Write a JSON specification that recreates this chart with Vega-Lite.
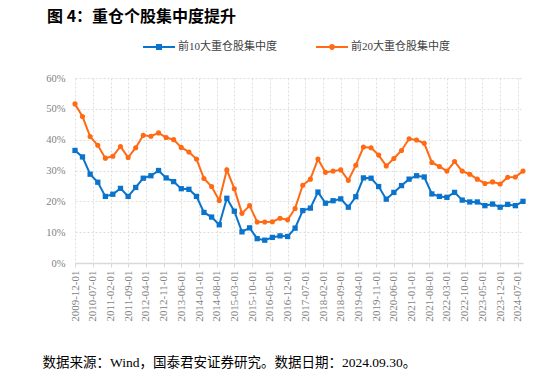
{
  "$schema": "https://vega.github.io/schema/vega-lite/v6.json",
  "width": 448,
  "height": 185,
  "autosize": {"type": "none"},
  "padding": {"left": 75, "top": 78, "right": 37, "bottom": 122},
  "background": "white",
  "title": {
    "text": "图 4：重仓个股集中度提升",
    "anchor": "start",
    "frame": "group",
    "dx": -28,
    "offset": 6,
    "font": "Noto Sans CJK SC",
    "fontSize": 16,
    "fontWeight": "bold",
    "color": "#000000"
  },
  "config": {"view": {"stroke": null}},
  "data": {"values": [
    {"date": "2009-12-01", "前10大重仓股集中度": 36.5, "前20大重仓股集中度": 51.6},
    {"date": "2010-03-01", "前10大重仓股集中度": 34.4, "前20大重仓股集中度": 47.5},
    {"date": "2010-06-01", "前10大重仓股集中度": 28.8, "前20大重仓股集中度": 41.0},
    {"date": "2010-09-01", "前10大重仓股集中度": 26.2, "前20大重仓股集中度": 38.2},
    {"date": "2010-12-01", "前10大重仓股集中度": 21.6, "前20大重仓股集中度": 34.0},
    {"date": "2011-03-01", "前10大重仓股集中度": 22.3, "前20大重仓股集中度": 34.6},
    {"date": "2011-06-01", "前10大重仓股集中度": 24.2, "前20大重仓股集中度": 37.8},
    {"date": "2011-09-01", "前10大重仓股集中度": 21.6, "前20大重仓股集中度": 34.2},
    {"date": "2011-12-01", "前10大重仓股集中度": 24.5, "前20大重仓股集中度": 37.4},
    {"date": "2012-03-01", "前10大重仓股集中度": 27.5, "前20大重仓股集中度": 41.4},
    {"date": "2012-06-01", "前10大重仓股集中度": 28.3, "前20大重仓股集中度": 41.1},
    {"date": "2012-09-01", "前10大重仓股集中度": 30.0, "前20大重仓股集中度": 42.2},
    {"date": "2012-12-01", "前10大重仓股集中度": 27.6, "前20大重仓股集中度": 40.7},
    {"date": "2013-03-01", "前10大重仓股集中度": 26.4, "前20大重仓股集中度": 40.0},
    {"date": "2013-06-01", "前10大重仓股集中度": 24.1, "前20大重仓股集中度": 37.5},
    {"date": "2013-09-01", "前10大重仓股集中度": 23.9, "前20大重仓股集中度": 36.0},
    {"date": "2013-12-01", "前10大重仓股集中度": 21.6, "前20大重仓股集中度": 33.7},
    {"date": "2014-03-01", "前10大重仓股集中度": 16.4, "前20大重仓股集中度": 27.4},
    {"date": "2014-06-01", "前10大重仓股集中度": 14.9, "前20大重仓股集中度": 24.8},
    {"date": "2014-09-01", "前10大重仓股集中度": 12.4, "前20大重仓股集中度": 20.3},
    {"date": "2014-12-01", "前10大重仓股集中度": 21.0, "前20大重仓股集中度": 30.2},
    {"date": "2015-03-01", "前10大重仓股集中度": 16.8, "前20大重仓股集中度": 24.1},
    {"date": "2015-06-01", "前10大重仓股集中度": 10.1, "前20大重仓股集中度": 16.1},
    {"date": "2015-09-01", "前10大重仓股集中度": 11.4, "前20大重仓股集中度": 18.6},
    {"date": "2015-12-01", "前10大重仓股集中度": 7.9, "前20大重仓股集中度": 13.3},
    {"date": "2016-03-01", "前10大重仓股集中度": 7.4, "前20大重仓股集中度": 13.3},
    {"date": "2016-06-01", "前10大重仓股集中度": 8.3, "前20大重仓股集中度": 13.4},
    {"date": "2016-09-01", "前10大重仓股集中度": 8.8, "前20大重仓股集中度": 14.5},
    {"date": "2016-12-01", "前10大重仓股集中度": 8.6, "前20大重仓股集中度": 14.0},
    {"date": "2017-03-01", "前10大重仓股集中度": 11.3, "前20大重仓股集中度": 17.7},
    {"date": "2017-06-01", "前10大重仓股集中度": 17.0, "前20大重仓股集中度": 25.2},
    {"date": "2017-09-01", "前10大重仓股集中度": 17.8, "前20大重仓股集中度": 27.2},
    {"date": "2017-12-01", "前10大重仓股集中度": 23.0, "前20大重仓股集中度": 33.7},
    {"date": "2018-03-01", "前10大重仓股集中度": 19.4, "前20大重仓股集中度": 29.4},
    {"date": "2018-06-01", "前10大重仓股集中度": 20.2, "前20大重仓股集中度": 29.8},
    {"date": "2018-09-01", "前10大重仓股集中度": 20.8, "前20大重仓股集中度": 30.2},
    {"date": "2018-12-01", "前10大重仓股集中度": 18.1, "前20大重仓股集中度": 26.8},
    {"date": "2019-03-01", "前10大重仓股集中度": 21.5, "前20大重仓股集中度": 31.7},
    {"date": "2019-06-01", "前10大重仓股集中度": 27.6, "前20大重仓股集中度": 37.6},
    {"date": "2019-09-01", "前10大重仓股集中度": 27.5, "前20大重仓股集中度": 37.4},
    {"date": "2019-12-01", "前10大重仓股集中度": 24.8, "前20大重仓股集中度": 35.0},
    {"date": "2020-03-01", "前10大重仓股集中度": 20.7, "前20大重仓股集中度": 31.5},
    {"date": "2020-06-01", "前10大重仓股集中度": 22.9, "前20大重仓股集中度": 33.9},
    {"date": "2020-09-01", "前10大重仓股集中度": 25.1, "前20大重仓股集中度": 36.5},
    {"date": "2020-12-01", "前10大重仓股集中度": 27.2, "前20大重仓股集中度": 40.3},
    {"date": "2021-03-01", "前10大重仓股集中度": 28.3, "前20大重仓股集中度": 39.9},
    {"date": "2021-06-01", "前10大重仓股集中度": 27.9, "前20大重仓股集中度": 38.8},
    {"date": "2021-09-01", "前10大重仓股集中度": 22.4, "前20大重仓股集中度": 32.6},
    {"date": "2021-12-01", "前10大重仓股集中度": 21.6, "前20大重仓股集中度": 31.3},
    {"date": "2022-03-01", "前10大重仓股集中度": 21.3, "前20大重仓股集中度": 29.8},
    {"date": "2022-06-01", "前10大重仓股集中度": 22.9, "前20大重仓股集中度": 32.9},
    {"date": "2022-09-01", "前10大重仓股集中度": 20.4, "前20大重仓股集中度": 29.8},
    {"date": "2022-12-01", "前10大重仓股集中度": 19.8, "前20大重仓股集中度": 28.8},
    {"date": "2023-03-01", "前10大重仓股集中度": 19.8, "前20大重仓股集中度": 27.2},
    {"date": "2023-06-01", "前10大重仓股集中度": 18.6, "前20大重仓股集中度": 25.8},
    {"date": "2023-09-01", "前10大重仓股集中度": 19.1, "前20大重仓股集中度": 26.3},
    {"date": "2023-12-01", "前10大重仓股集中度": 18.1, "前20大重仓股集中度": 25.6},
    {"date": "2024-03-01", "前10大重仓股集中度": 19.0, "前20大重仓股集中度": 27.8},
    {"date": "2024-06-01", "前10大重仓股集中度": 18.6, "前20大重仓股集中度": 27.9},
    {"date": "2024-09-01", "前10大重仓股集中度": 20.0, "前20大重仓股集中度": 29.8}
  ]},
  "transform": [{"fold": ["前10大重仓股集中度", "前20大重仓股集中度"], "as": ["series", "value"]}],
  "encoding": {
    "y": {
      "field": "value",
      "type": "quantitative",
      "scale": {"domain": [0, 60], "nice": false},
      "axis": {
        "values": [0, 10, 20, 30, 40, 50, 60],
        "labelExpr": "datum.value + '%'",
        "labelFont": "Liberation Serif",
        "labelFontSize": 10.5,
        "labelColor": "#7f7f7f",
        "labelPadding": 10,
        "domain": false,
        "ticks": false,
        "grid": true,
        "gridColor": "#dcdcdc",
        "gridDash": [2, 2],
        "title": null
      }
    }
  },
  "layer": [
    {
      "mark": {"type": "point", "filled": true, "opacity": 0, "size": 1024},
      "encoding": {
        "x": {
          "field": "date",
          "type": "temporal",
          "scale": {"type": "utc", "nice": false, "domain": [{"year": 2009, "month": 12, "date": 1, "utc": true}, {"year": 2024, "month": 9, "date": 1, "utc": true}]},
          "axis": null
        },
        "color": {
          "field": "series",
          "type": "nominal",
          "scale": {"domain": ["前10大重仓股集中度", "前20大重仓股集中度"], "range": ["#0A74CC", "#FF6A13"]},
          "legend": {
            "title": null,
            "orient": "none",
            "legendX": 68,
            "legendY": -47,
            "direction": "horizontal",
            "symbolSize": 1024,
            "symbolStrokeWidth": 0,
            "symbolOpacity": 1,
            "labelFont": "Liberation Serif, Noto Sans CJK SC",
            "labelFontSize": 11,
            "labelColor": "#404040",
            "labelOffset": 3,
            "columnPadding": 39,
            "padding": 0,
            "offset": 0
          }
        },
        "shape": {
          "field": "series",
          "type": "nominal",
          "scale": {
            "domain": ["前10大重仓股集中度", "前20大重仓股集中度"],
            "range": [
              "M-1,-0.0625H1V0.0625H-1Z M-0.19,-0.19H0.19V0.19H-0.19Z",
              "M-1,-0.0625H1V0.0625H-1Z M0.18,0A0.18,0.18,0,1,1,-0.18,0A0.18,0.18,0,1,1,0.18,0Z"
            ]
          },
          "legend": {
            "title": null,
            "orient": "none",
            "legendX": 68,
            "legendY": -47,
            "direction": "horizontal",
            "symbolSize": 1024,
            "symbolStrokeWidth": 0,
            "symbolOpacity": 1,
            "labelFont": "Liberation Serif, Noto Sans CJK SC",
            "labelFontSize": 11,
            "labelColor": "#404040",
            "labelOffset": 3,
            "columnPadding": 39,
            "padding": 0,
            "offset": 0
          }
        }
      }
    },
    {
      "mark": {"type": "line", "strokeWidth": 2},
      "encoding": {
        "color": {"field": "series", "type": "nominal", "legend": null},
        "x": {
          "field": "date",
          "type": "temporal",
          "scale": {"type": "utc", "nice": false, "domain": [{"year": 2009, "month": 12, "date": 1, "utc": true}, {"year": 2024, "month": 9, "date": 1, "utc": true}]},
          "axis": {
            "orient": "bottom",
            "values": [
              {"year": 2009, "month": 12, "date": 1, "utc": true},
              {"year": 2010, "month": 7, "date": 1, "utc": true},
              {"year": 2011, "month": 2, "date": 1, "utc": true},
              {"year": 2011, "month": 9, "date": 1, "utc": true},
              {"year": 2012, "month": 4, "date": 1, "utc": true},
              {"year": 2012, "month": 11, "date": 1, "utc": true},
              {"year": 2013, "month": 6, "date": 1, "utc": true},
              {"year": 2014, "month": 1, "date": 1, "utc": true},
              {"year": 2014, "month": 8, "date": 1, "utc": true},
              {"year": 2015, "month": 3, "date": 1, "utc": true},
              {"year": 2015, "month": 10, "date": 1, "utc": true},
              {"year": 2016, "month": 5, "date": 1, "utc": true},
              {"year": 2016, "month": 12, "date": 1, "utc": true},
              {"year": 2017, "month": 7, "date": 1, "utc": true},
              {"year": 2018, "month": 2, "date": 1, "utc": true},
              {"year": 2018, "month": 9, "date": 1, "utc": true},
              {"year": 2019, "month": 4, "date": 1, "utc": true},
              {"year": 2019, "month": 11, "date": 1, "utc": true},
              {"year": 2020, "month": 6, "date": 1, "utc": true},
              {"year": 2021, "month": 1, "date": 1, "utc": true},
              {"year": 2021, "month": 8, "date": 1, "utc": true},
              {"year": 2022, "month": 3, "date": 1, "utc": true},
              {"year": 2022, "month": 10, "date": 1, "utc": true},
              {"year": 2023, "month": 5, "date": 1, "utc": true},
              {"year": 2023, "month": 12, "date": 1, "utc": true},
              {"year": 2024, "month": 7, "date": 1, "utc": true}
            ],
            "labelExpr": "utcFormat(datum.value, '%Y-%m-%d')",
            "labelAngle": 270,
            "labelAlign": "right",
            "labelBaseline": "middle",
            "labelPadding": 3,
            "labelFont": "Liberation Serif",
            "labelFontSize": 11,
            "labelColor": "#7f7f7f",
            "labelOverlap": false,
            "labelFlush": false,
            "grid": true,
            "gridColor": "#dcdcdc",
            "gridDash": [2, 2],
            "domainColor": "#d9d9d9",
            "domainWidth": 1.5,
            "tickColor": "#d9d9d9",
            "tickSize": 4,
            "title": null
          }
        }
      }
    },
    {
      "transform": [{"filter": "datum.series === '前10大重仓股集中度'"}],
      "mark": {"type": "point", "shape": "square", "filled": true, "opacity": 1, "size": 28},
      "encoding": {
        "color": {"field": "series", "type": "nominal", "legend": null},
        "x": {
          "field": "date",
          "type": "temporal",
          "scale": {"type": "utc", "nice": false, "domain": [{"year": 2009, "month": 12, "date": 1, "utc": true}, {"year": 2024, "month": 9, "date": 1, "utc": true}]},
          "axis": {
            "orient": "bottom",
            "offset": 86,
            "domain": false,
            "ticks": false,
            "labels": false,
            "grid": false,
            "title": "数据来源：Wind，国泰君安证券研究。数据日期：2024.09.30。",
            "titleAnchor": "start",
            "titleAlign": "left",
            "titleX": -33,
            "titleY": 13,
            "titleBaseline": "middle",
            "titleFont": "Liberation Serif, Noto Sans CJK SC",
            "titleFontSize": 13.5,
            "titleFontWeight": "normal",
            "titleColor": "#000000"
          }
        }
      }
    },
    {
      "transform": [{"filter": "datum.series === '前20大重仓股集中度'"}],
      "mark": {"type": "point", "shape": "circle", "filled": true, "opacity": 1, "size": 26},
      "encoding": {
        "color": {"field": "series", "type": "nominal", "legend": null},
        "x": {
          "field": "date",
          "type": "temporal",
          "scale": {"type": "utc", "nice": false, "domain": [{"year": 2009, "month": 12, "date": 1, "utc": true}, {"year": 2024, "month": 9, "date": 1, "utc": true}]},
          "axis": null
        }
      }
    }
  ],
  "resolve": {"axis": {"x": "independent"}}
}
